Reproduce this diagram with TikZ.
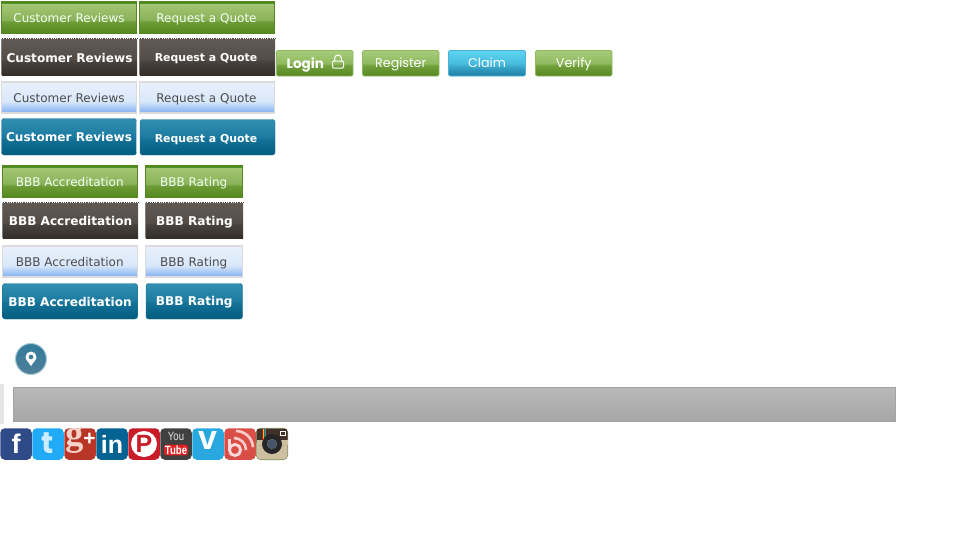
\documentclass[tikz,border=0pt]{standalone}
\usepackage{fontspec}
\setmainfont{DejaVu Sans}
\newfontfamily\gothamish{Poppins}
\newfontfamily\arialish{Liberation Sans}
\newfontfamily\timesish{Liberation Serif}
\usetikzlibrary{calc}
\definecolor{greenedge}{rgb}{.33,.53,.12}
\definecolor{darkedge}{rgb}{.30,.28,.26}
\definecolor{lightedge}{rgb}{.86,.86,.87}
\definecolor{tealedge}{rgb}{.10,.45,.58}
\definecolor{smgreenedge}{rgb}{.56,.72,.38}
\definecolor{claimedge}{rgb}{.30,.70,.85}
\definecolor{pinedge}{rgb}{.66,.80,.85}
\definecolor{baredge}{rgb}{.64,.64,.64}
\definecolor{fbblue}{rgb}{.18,.29,.53}
\definecolor{twblue}{rgb}{.13,.67,.97}
\definecolor{twletter}{rgb}{.80,.93,1}
\definecolor{gpred}{rgb}{.72,.21,.15}
\definecolor{gpletter}{rgb}{.96,.82,.78}
\definecolor{liblue}{rgb}{.02,.39,.58}
\definecolor{pired}{rgb}{.79,.11,.16}
\definecolor{ytgrey}{rgb}{.25,.25,.25}
\definecolor{ytred}{rgb}{.88,.12,.13}
\definecolor{vmblue}{rgb}{.16,.66,.88}
\definecolor{blred}{rgb}{.85,.31,.28}
\definecolor{igbeige}{rgb}{.81,.75,.63}
\definecolor{igedge}{rgb}{.50,.58,.40}
\definecolor{igbrown}{rgb}{.26,.19,.16}
\definecolor{iglens}{rgb}{.27,.33,.40}
% shading helper: path maps onto 25bp..75bp
\pgfdeclareverticalshading{shgreen}{100bp}{rgb(0bp)=(.33,.53,.12);rgb(25bp)=(.33,.53,.12);rgb(43bp)=(.43,.61,.21);rgb(46bp)=(.54,.70,.35);rgb(72bp)=(.64,.78,.45);rgb(72.5bp)=(.30,.54,.12);rgb(100bp)=(.30,.54,.12)}
\pgfdeclareverticalshading{shdark}{100bp}{rgb(0bp)=(.20,.18,.16);rgb(25bp)=(.20,.18,.16);rgb(44bp)=(.28,.26,.24);rgb(47bp)=(.33,.30,.28);rgb(75bp)=(.38,.35,.33);rgb(100bp)=(.38,.35,.33)}
\pgfdeclareverticalshading{shlight}{100bp}{rgb(0bp)=(.86,.86,.87);rgb(27.5bp)=(.86,.86,.87);rgb(28bp)=(.55,.72,.95);rgb(43bp)=(.85,.91,.98);rgb(72bp)=(.91,.94,.99);rgb(72.5bp)=(.86,.86,.87);rgb(100bp)=(.86,.86,.87)}
\pgfdeclareverticalshading{shteal}{100bp}{rgb(0bp)=(.01,.36,.49);rgb(25bp)=(.01,.36,.49);rgb(48bp)=(.08,.45,.60);rgb(50bp)=(.11,.48,.63);rgb(75bp)=(.19,.56,.69);rgb(100bp)=(.19,.56,.69)}
\pgfdeclareverticalshading{shsmallgreen}{100bp}{rgb(0bp)=(.33,.53,.12);rgb(25bp)=(.33,.53,.12);rgb(46bp)=(.45,.63,.24);rgb(50bp)=(.56,.73,.37);rgb(75bp)=(.66,.80,.48);rgb(100bp)=(.66,.80,.48)}
\pgfdeclareverticalshading{shclaim}{100bp}{rgb(0bp)=(.10,.49,.63);rgb(25bp)=(.10,.49,.63);rgb(42bp)=(.22,.64,.78);rgb(50bp)=(.28,.74,.87);rgb(75bp)=(.37,.83,.95);rgb(100bp)=(.37,.83,.95)}
\pgfdeclareverticalshading{shbar}{100bp}{rgb(0bp)=(.65,.65,.65);rgb(25bp)=(.65,.65,.65);rgb(72bp)=(.72,.72,.72);rgb(100bp)=(.72,.72,.72)}
\pgfdeclareverticalshading{shpin}{100bp}{rgb(0bp)=(.31,.50,.60);rgb(25bp)=(.31,.50,.60);rgb(75bp)=(.20,.48,.61);rgb(100bp)=(.20,.48,.61)}
\tikzset{
  btnbase/.style={rectangle,inner sep=0pt,text height=10.5pt,text depth=0pt,align=center},
  greenbtn/.style={btnbase,shading=shgreen,draw=greenedge,line width=.5pt,text=white!95!green,font=\fontsize{12}{12}\selectfont},
  darkbtn/.style={btnbase,shading=shdark,text=white,font=\fontsize{12.1}{12}\bfseries\selectfont},
  lightbtn/.style={btnbase,shading=shlight,draw=lightedge,line width=.5pt,text=black!70,font=\fontsize{12}{12}\selectfont},
  tealbtn/.style={btnbase,rounded corners=2.5pt,shading=shteal,draw=tealedge,line width=.4pt,text=white,font=\fontsize{12.1}{12}\bfseries\selectfont},
  smallbtn/.style={btnbase,rounded corners=1.5pt,draw=#1,line width=.8pt,text=white,font=\gothamish\fontsize{12.7}{12}\selectfont},
  socialicon/.style={rectangle,rounded corners=4.5pt,inner sep=0pt,minimum width=31.5pt,minimum height=31.5pt,text=white,fill=#1},
}
\newcommand{\btn}[7]{\node[#6,minimum width={#4-#2},minimum height={#5-#3}] (#1) at ({(#2+#4)/2},{(#3+#5)/2}) {#7};}
\begin{document}
\begin{tikzpicture}[x=1pt,y=-1pt]
\useasboundingbox (0,0) rectangle (953,533);
% first group
\btn{crgreen}{1.5}{1.5}{136.5}{33}{greenbtn}{Customer Reviews}
\btn{rqgreen}{139.5}{1.5}{274.5}{33}{greenbtn}{\kern-1pt Request a Quote}
\btn{crdark}{2}{39}{137}{75}{darkbtn}{Customer Reviews}
\btn{rqdark}{140}{39}{275}{75}{darkbtn,font=\fontsize{10.9}{12}\bfseries\selectfont}{\kern-3pt\raisebox{.5pt}{Request a Quote}}
\btn{crlight}{1.5}{81}{136.5}{113}{lightbtn}{Customer Reviews}
\btn{rqlight}{139.5}{81}{274.5}{113}{lightbtn}{\kern-1pt Request a Quote}
\btn{crteal}{1.5}{118.5}{136.5}{155}{tealbtn}{\raisebox{1pt}{Customer Reviews}}
\btn{rqteal}{140}{119.5}{275}{155}{tealbtn,font=\fontsize{10.9}{12}\bfseries\selectfont}{\kern-3pt\raisebox{.5pt}{Request a Quote}}
% second group
\btn{bagreen}{2}{165.5}{137.5}{197}{greenbtn}{BBB Accreditation}
\btn{brgreen}{145}{165.5}{242.5}{197}{greenbtn}{BBB Rating}
\btn{badark}{3}{203}{138}{238}{darkbtn}{BBB Accreditation}
\btn{brdark}{146}{203}{243}{238}{darkbtn}{BBB Rating}
\btn{balight}{2}{245}{137.5}{277}{lightbtn}{BBB Accreditation}
\btn{brlight}{145}{245}{242.5}{277}{lightbtn}{BBB Rating}
\btn{bateal}{2.5}{283.5}{137.5}{319}{tealbtn}{BBB Accreditation}
\btn{brteal}{146}{283.5}{242.5}{319}{tealbtn}{\raisebox{1pt}{BBB Rating}}
% dotted top and plain left edges of the dark buttons
\foreach \n in {crdark,rqdark,badark,brdark}{
  \draw[darkedge,line width=.8pt,densely dotted] (\n.north west) -- (\n.north east);
  \draw[darkedge!70,line width=.8pt] (\n.north west) -- (\n.south west);
}
% small buttons
\btn{login}{276.5}{50.5}{353}{76}{smallbtn=smgreenedge,shading=shsmallgreen}{\fontsize{13.5}{12}\bfseries\selectfont\hspace{-19pt}Login}
\btn{register}{362.5}{50.5}{439}{76}{smallbtn=smgreenedge,shading=shsmallgreen}{\raisebox{1pt}{Register}}
\btn{claim}{448.5}{50.5}{525.5}{76}{smallbtn=claimedge,shading=shclaim}{\raisebox{1pt}{Claim}}
\btn{verify}{535.5}{50.5}{612}{76}{smallbtn=smgreenedge,shading=shsmallgreen}{\raisebox{1pt}{Verify}}
% padlock
\draw[white,line width=1pt,rounded corners=1pt] (332.5,61) rectangle (343.5,68);
\draw[white,line width=1pt] (334.5,61) -- (334.5,58.5) arc[start angle=180,end angle=360,radius=3.5] -- (341.5,61);
% pin button
\node[circle,minimum size=31pt,inner sep=0pt,shading=shpin,draw=pinedge,line width=1pt] (pinbtn) at (31,359) {};
\fill[white,even odd rule] (31,366) .. controls (29,362.5) and (25.5,360) .. (25.5,357) arc[start angle=180,end angle=360,radius=5.5] .. controls (36.5,360) and (33,362.5) .. (31,366) -- cycle (33.5,357) arc[start angle=0,end angle=360,radius=2.5] -- cycle;
% grey bar
\fill[black!10] (0,384) rectangle (4,424);
\node[rectangle,inner sep=0pt,minimum width=882pt,minimum height=34pt,shading=shbar,draw=baredge,line width=1.5pt] (greybar) at (454.5,404.5) {};
% social icons
\node[socialicon=fbblue,font=\arialish\bfseries\fontsize{27}{27}\selectfont] (facebook) at (16,444) {\raisebox{-3pt}{f}};
\node[socialicon=twblue] (twitter) at (48,444) {};
\node[text=twletter,font=\gothamish\bfseries\fontsize{30}{30}\selectfont,inner sep=0pt] (twittert) at (47.5,443) {t};
\node[socialicon=gpred] (gplus) at (80,444) {};
\node[inner sep=0pt,text height=20pt,text depth=8pt,text=white,font=\arialish\bfseries\fontsize{21}{21}\selectfont] (gpluslabel) at (80.5,439) {\textcolor{gpletter}{\timesish\bfseries\fontsize{36}{36}\selectfont g}+};
\node[socialicon=liblue,font=\arialish\bfseries\fontsize{25}{25}\selectfont] (linkedin) at (112,444) {\raisebox{-2.5pt}{in}};
\node[socialicon=pired] (pinterest) at (144,444) {};
\node[circle,fill=white,minimum size=26pt,inner sep=0pt,text=pired,font=\arialish\bfseries\fontsize{25}{25}\selectfont] (pincircle) at (144,444) {P};
\node[socialicon=ytgrey] (youtube) at (176,444) {};
\node[text=white!90!black,font=\arialish\fontsize{12}{12}\selectfont,inner sep=0pt,xscale=.8] (ytyou) at (176,436) {You};
\node[fill=ytred,rounded corners=2.5pt,inner sep=1pt,text=white,font=\arialish\bfseries\fontsize{12}{12}\selectfont,xscale=.8] (yttube) at (176,450) {Tube};
\node[socialicon=vmblue] (vimeo) at (208,444) {};
\node[text=white,font=\arialish\bfseries\fontsize{34}{34}\selectfont,inner sep=0pt] (vimeov) at (207.5,441) {v};
\node[socialicon=blred] (blog) at (240,444) {};
\begin{scope}
\clip[rounded corners=4.5pt] (blog.north west) rectangle (blog.south east);
\draw[white!85!red,line width=2.8pt] (229.5,439) -- (229.5,450) (235,450) circle[radius=5.6];
\draw[white!80!red,line width=2.6pt] (234,438) arc[start angle=270,end angle=360,radius=12];
\draw[white!80!red,line width=2.6pt] (236,431) arc[start angle=270,end angle=357,radius=17];
\end{scope}
\node[socialicon=igbeige,draw=igedge,line width=.6pt] (instagram) at (272,444) {};
\path[fill=igbrown,rounded corners=3pt] (256.5,445) -- (256.5,428.5) -- (287.5,428.5) -- (287.5,445) -- cycle;
\fill[igbeige] (257,439.5) rectangle (287.5,445);
\fill[red!80!black] (262,429) rectangle (263,440);
\fill[yellow!80!black] (263,429) rectangle (264,440);
\fill[green!60!black] (264,429) rectangle (265,440);
\fill[blue!60!white] (265,429) rectangle (266,440);
\draw[white,line width=.8pt] (280,431.5) rectangle (285,435.5);
\node[circle,fill=black!85,minimum size=20pt,inner sep=0pt] (lensouter) at (272,444) {};
\node[circle,fill=iglens,draw=black!30,densely dotted,minimum size=10pt,inner sep=0pt] (lensinner) at (272,444) {};
\end{tikzpicture}
\end{document}
